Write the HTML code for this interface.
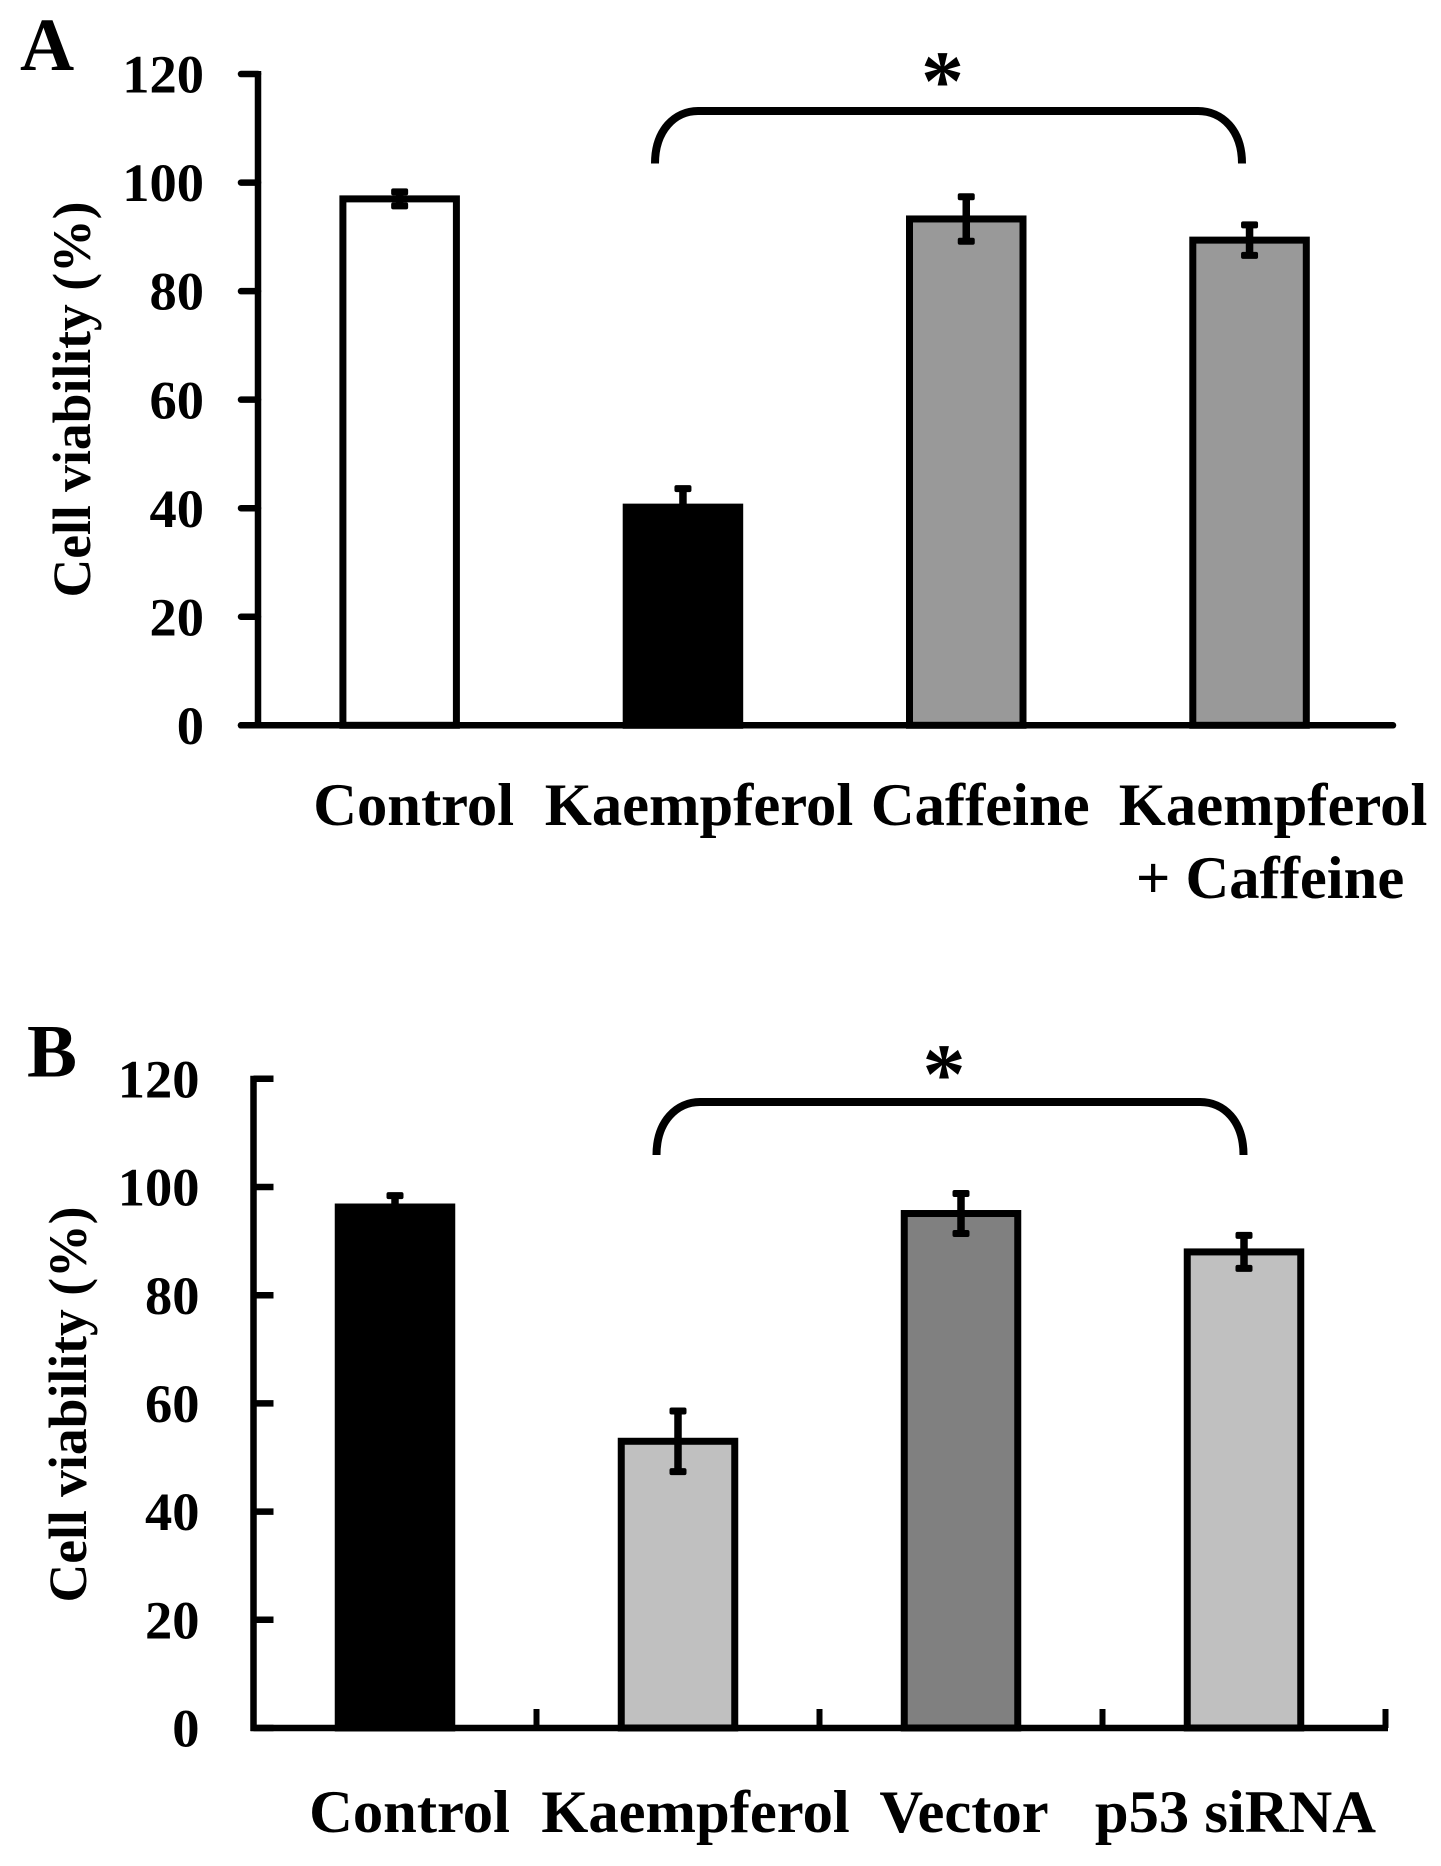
<!DOCTYPE html>
<html lang="en">
<head>
<meta charset="utf-8">
<title>Cell viability bar charts</title>
<style>
  html, body { margin: 0; padding: 0; background: #fff; }
  svg { display: block; }
  text { font-family: "Liberation Serif", serif; font-weight: bold; fill: #000; }
</style>
</head>
<body>
<svg id="figure" xmlns="http://www.w3.org/2000/svg" width="1441" height="1866" viewBox="0 0 1441 1866">
  <rect x="0" y="0" width="1441" height="1866" fill="#fff"/>

  <g id="panel-a">
    <text x="20" y="70" font-size="75">A</text>
    <text transform="translate(90 399.5) rotate(-90)" text-anchor="middle" font-size="53.6">Cell viability (%)</text>
    <path d="M655,163.5 C655,130 675,111 698,111 L1198,111 C1222,111 1242,130 1242,163.5" fill="none" stroke="#000" stroke-width="8"/>
    <text x="942.5" y="110" text-anchor="middle" font-size="86">*</text>
  </g>

  <g id="panel-b">
    <text x="27" y="1076.5" font-size="75">B</text>
    <text transform="translate(86 1404.5) rotate(-90)" text-anchor="middle" font-size="53.6">Cell viability (%)</text>
    <path d="M656.5,1155 C656.5,1121 677,1102 700,1102 L1200,1102 C1224,1102 1243.5,1121 1243.5,1155" fill="none" stroke="#000" stroke-width="8"/>
    <text x="944" y="1103" text-anchor="middle" font-size="86">*</text>
  </g>
</svg>

<script>
// Shared y axis ticks
const yTickValues = [0, 20, 40, 60, 80, 100, 120];

// Panel A data
const categoriesA = ["Control", "Kaempferol", "Caffeine", "Kaempferol\n+ Caffeine"];
const valuesA = [97, 40.2, 93.3, 89.4];
const errorsA = [1.3, 3.4, 4.1, 2.8];
const fillsA = ["#ffffff", "#000000", "#999999", "#999999"];

// Panel B data
const categoriesB = ["Control", "Kaempferol", "Vector", "p53 siRNA"];
const valuesB = [96.3, 53, 95.1, 88];
const errorsB = [2.1, 5.6, 3.7, 3.05];
const fillsB = ["#000000", "#c0c0c0", "#808080", "#c0c0c0"];

// Layout (geometry only)
const layoutA = {
  root: "panel-a", slug: "panel-a",
  left: 258, band: 283.3, baseY: 725.3, unit: 5.427, right: 1393,
  tickOutside: true, catTicks: false, labelEnd: 204,
  labelNudge: [14, 16, 14, 23.5], labelBase: 825, lineGap: 73
};
const layoutB = {
  root: "panel-b", slug: "panel-b",
  left: 253.5, band: 283, baseY: 1728, unit: 5.41, right: 1388,
  tickOutside: false, catTicks: true, labelEnd: 199.5,
  labelNudge: [14.5, 17.5, 3, -8.5], labelBase: 1832, lineGap: 73
};

const NS = "http://www.w3.org/2000/svg";
function mk(parent, tag, props) {
  const el = document.createElementNS(NS, tag);
  for (const k in props) el.setAttribute(k, props[k]);
  parent.appendChild(el);
  return el;
}

function drawPanel(cfg, categories, values, errors, fills) {
  const g = document.getElementById(cfg.root);
  const xCenter = i => cfg.left + cfg.band * (i + 0.5);
  const yPos = v => cfg.baseY - v * cfg.unit;
  const barWidth = 113.5;
  const capWidth = 17;

  yTickValues.forEach(v => {
    const y = yPos(v);
    const x1 = cfg.tickOutside ? cfg.left - 17 : cfg.left;
    const x2 = cfg.tickOutside ? cfg.left : cfg.left + 20;
    const tick = mk(g, "line", { x1: x1, y1: y, x2: x2, y2: y, stroke: "#000", "stroke-width": 6.5, "stroke-linecap": cfg.tickOutside ? "round" : "butt" });
    
    
    const label = mk(g, "text", { x: cfg.labelEnd, y: y + 18.6, "text-anchor": "end", "font-size": 54.5 });
    label.textContent = String(v);
    
    
  });

  const yAxis = mk(g, "line", { x1: cfg.left, y1: yPos(120) - 3, x2: cfg.left, y2: yPos(0) + 3, stroke: "#000", "stroke-width": 6.5 });
  
  

  values.forEach((v, i) => {
    const cx = xCenter(i);
    const top = yPos(v);
    const bar = mk(g, "rect", { x: cx - barWidth / 2, y: top, width: barWidth, height: yPos(0) - top, fill: fills[i], stroke: "#000", "stroke-width": 7 });
    
    

    const yHi = yPos(v + errors[i]);
    const yLo = yPos(v - errors[i]);
    const stem = mk(g, "line", { x1: cx, y1: yHi, x2: cx, y2: yLo, stroke: "#000", "stroke-width": 7.5 });
    
    
    [yHi, yLo].forEach((capY, c) => {
      const cap = mk(g, "rect", { x: cx - capWidth / 2, y: capY - 3.5, width: capWidth, height: 7, rx: 2, fill: "#000" });
      
      
    });

    String(categories[i]).split("\n").forEach((line, n) => {
      const nudge = n === 0 ? cfg.labelNudge[i] : cfg.labelNudge[i] - 3;
      const t = mk(g, "text", { x: cx + nudge, y: cfg.labelBase + n * cfg.lineGap, "text-anchor": "middle", "font-size": 60.6 });
      t.textContent = line;
      
      
    });

    if (cfg.catTicks) {
      const bx = cfg.left + cfg.band * (i + 1);
      const ct = mk(g, "line", { x1: bx, y1: yPos(0) - 19, x2: bx, y2: yPos(0), stroke: "#000", "stroke-width": 6 });
      
      
    }
  });

  const xAxis = mk(g, "line", { x1: cfg.left - (cfg.tickOutside ? 17 : 3), y1: yPos(0), x2: cfg.right, y2: yPos(0), stroke: "#000", "stroke-width": 6.5, "stroke-linecap": cfg.tickOutside ? "round" : "butt" });
  
  
}

drawPanel(layoutA, categoriesA, valuesA, errorsA, fillsA);
drawPanel(layoutB, categoriesB, valuesB, errorsB, fillsB);
</script>
</body>
</html>
